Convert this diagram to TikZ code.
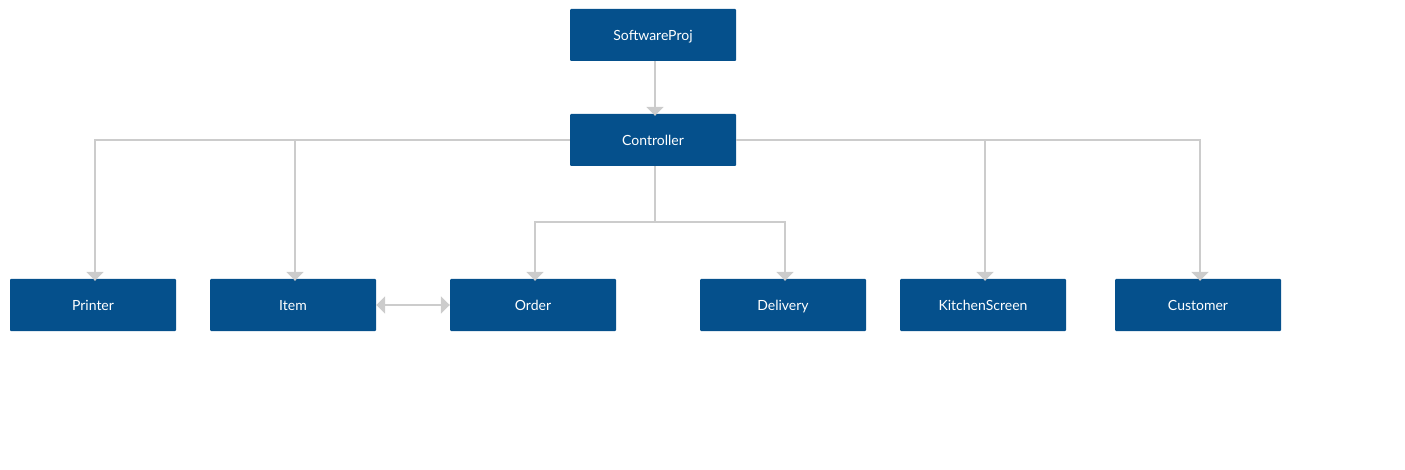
\documentclass[tikz,border=0pt]{standalone}
\usepackage{fontspec}
\setmainfont{Lato}
\usetikzlibrary{arrows.meta}
\definecolor{boxblue}{HTML}{05508C}
\definecolor{linegray}{HTML}{CCCCCC}
\tikzstyle{classbox}=[rectangle,fill=boxblue,text=white,rounded corners=1pt,
                      minimum width=166pt,minimum height=52pt,inner sep=0pt,
                      text height=12pt,text depth=1pt,
                      font=\fontsize{14}{16}\selectfont]
\tikzstyle{link}=[draw=linegray,line width=2pt,
                  -{Triangle[width=17pt,length=9pt]}]
\begin{document}
\begin{tikzpicture}[x=1pt,y=-1pt]
    \useasboundingbox (0,0) rectangle (1405,470);
    \node (swp) at (653,35) [classbox]{SoftwareProj};
    \node (ctrl) at (653,140) [classbox]{Controller};
    \node (printer) at (93,305) [classbox]{Printer};
    \node (item) at (293,305) [classbox]{Item};
    \node (order) at (533,305) [classbox]{Order};
    \node (delivery) at (783,305) [classbox]{Delivery};
    \node (kitchen) at (983,305) [classbox]{KitchenScreen};
    \node (customer) at (1198,305) [classbox]{Customer};
    \coordinate (split) at (655,222);
    \draw[link] ([xshift=2pt]swp.south) -- ([xshift=2pt,yshift=-2pt]ctrl.north);
    \draw[link] (ctrl.west) -| ([xshift=2pt,yshift=-2pt]printer.north);
    \draw[link] (ctrl.west) -| ([xshift=2pt,yshift=-2pt]item.north);
    \draw[link] (ctrl.east) -| ([xshift=2pt,yshift=-2pt]kitchen.north);
    \draw[link] (ctrl.east) -| ([xshift=2pt,yshift=-2pt]customer.north);
    \draw[link,-] ([xshift=2pt]ctrl.south) -- (split);
    \draw[link] (split) -| ([xshift=2pt,yshift=-2pt]order.north);
    \draw[link] (split) -| ([xshift=2pt,yshift=-2pt]delivery.north);
    \draw[link,{Triangle[width=17pt,length=9pt]}-{Triangle[width=17pt,length=9pt]}]
        (item.east) -- (order.west);
  \end{tikzpicture}
\end{document}
